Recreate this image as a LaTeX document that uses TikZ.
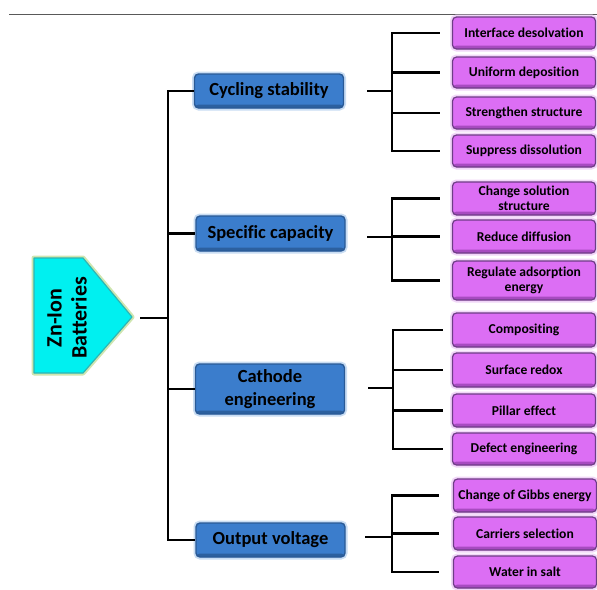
\documentclass[tikz,border=0pt]{standalone}
\usepackage{fontspec}
\setmainfont[Ligatures={NoCommon}]{Carlito}
\definecolor{bluefill}{HTML}{3B7DCC}
\definecolor{blueedge}{HTML}{2A5A96}
\definecolor{bluedark}{HTML}{2C609F}
\definecolor{blueglow}{HTML}{C9DDF3}
\definecolor{purpfill}{HTML}{DC6EF4}
\definecolor{purpedge}{HTML}{6E3C86}
\definecolor{purpdark}{HTML}{A74BC0}
\definecolor{purpglow}{HTML}{F1D6F8}
\definecolor{cyanfill}{HTML}{00F0F0}
\definecolor{cyanedge}{HTML}{2FB4B4}
\definecolor{cyanglow}{HTML}{CFE6B0}
\begin{document}
\begin{tikzpicture}[x=1pt,y=-1pt,
  conn/.style={line width=2.9pt, black},
  blueb/.style={draw=blueedge, line width=1.4pt, fill=bluefill, rounded corners=4pt,
    minimum width=149pt, inner sep=0pt, align=center,
    font=\fontsize{18.5}{23}\selectfont\bfseries,
    preaction={draw=blueglow, line width=5pt},
    path picture={\fill[bluedark] ([yshift=-1pt]path picture bounding box.south west) rectangle ([yshift=3.5pt]path picture bounding box.south east);}},
  purpb/.style={draw=purpedge, line width=1.2pt, fill=purpfill, rounded corners=4pt,
    minimum width=143pt, inner sep=0pt, align=center,
    font=\fontsize{13.6}{15.5}\selectfont\bfseries,
    preaction={draw=purpglow, line width=5pt},
    path picture={\fill[purpdark] ([yshift=-1pt]path picture bounding box.south west) rectangle ([yshift=3.5pt]path picture bounding box.south east);}},
]
\useasboundingbox (0,0) rectangle (597,589);
\fill[white] (0,0) rectangle (597,589);
% top rule
\draw[gray!70!black, line width=1pt] (9,14) -- (597,14);

% root pentagon
\draw[cyanglow, line width=5pt, line join=round] (34,258) -- (83,258) -- (132,317) -- (83,373) -- (34,373) -- cycle;
\draw[cyanedge, line width=1.2pt, fill=cyanfill, line join=round] (34,258) -- (83,258) -- (132,317) -- (83,373) -- (34,373) -- cycle;
\node[rotate=90, align=center, font=\fontsize{22}{25}\selectfont\bfseries, inner sep=0pt] (root) at (67,318) {Zn-Ion\\Batteries};
\coordinate (rootout) at (140,318);
\coordinate (tj) at (168,318);

% level 1
\node[blueb, minimum height=34pt] (cyc) at (269,91) {Cycling stability};
\node[blueb, minimum height=35pt] (spc) at (270.5,233.5) {Specific capacity};
\node[blueb, minimum height=50pt] (cat) at (270,389) {Cathode\\engineering};
\node[blueb, minimum height=34pt] (out) at (270.5,540) {Output voltage};

\draw[conn] (rootout) -- (tj);
\draw[conn] (tj) |- (cyc);
\draw[conn] (tj) |- (spc);
\draw[conn] (tj) |- (cat);
\draw[conn] (tj) |- (out);

% level 2 boxes
\node[purpb, minimum height=32pt] (c1) at (524,33) {Interface desolvation};
\node[purpb, minimum height=31pt] (c2) at (524,72.5) {Uniform deposition};
\node[purpb, minimum height=32pt] (c3) at (524,113) {Strengthen structure};
\node[purpb, minimum height=32pt] (c4) at (524,151) {Suppress dissolution};

\node[purpb, minimum height=33pt] (s1) at (524,198.5) {Change solution\\structure};
\node[purpb, minimum height=33pt] (s2) at (524,236.5) {Reduce diffusion};
\node[purpb, minimum height=39pt] (s3) at (524,280.5) {Regulate adsorption\\energy};

\node[purpb, minimum height=34pt] (k1) at (524,330) {Compositing};
\node[purpb, minimum height=34pt] (k2) at (524,370) {Surface redox};
\node[purpb, minimum height=33pt] (k3) at (524,410.5) {Pillar effect};
\node[purpb, minimum height=32pt] (k4) at (524,449) {Defect engineering};

\node[purpb, minimum height=33pt] (o1) at (525,495.5) {Change of Gibbs energy};
\node[purpb, minimum height=33pt] (o2) at (525,533.5) {Carriers selection};
\node[purpb, minimum height=32pt] (o3) at (525,572) {Water in salt};

% brackets
\coordinate (cs) at (367,91);   \coordinate (cj) at (392,91);
\coordinate (ss) at (367,237);  \coordinate (sj) at (392,237);
\coordinate (ks) at (368,388);  \coordinate (kj) at (393,388);
\coordinate (os) at (365,537);  \coordinate (oj) at (392,537);

\draw[conn] (cs) -- (cj);
\foreach \b in {c1,c2,c3,c4} \draw[conn, shorten >=12pt] (cj) |- (\b);
\draw[conn] (ss) -- (sj);
\foreach \b in {s1,s2,s3} \draw[conn, shorten >=12pt] (sj) |- (\b);
\draw[conn] (ks) -- (kj);
\foreach \b in {k1,k2,k3,k4} \draw[conn, shorten >=9pt] (kj) |- (\b);
\draw[conn] (os) -- (oj);
\foreach \b in {o1,o2,o3} \draw[conn, shorten >=14pt] (oj) |- (\b);
\end{tikzpicture}
\end{document}
